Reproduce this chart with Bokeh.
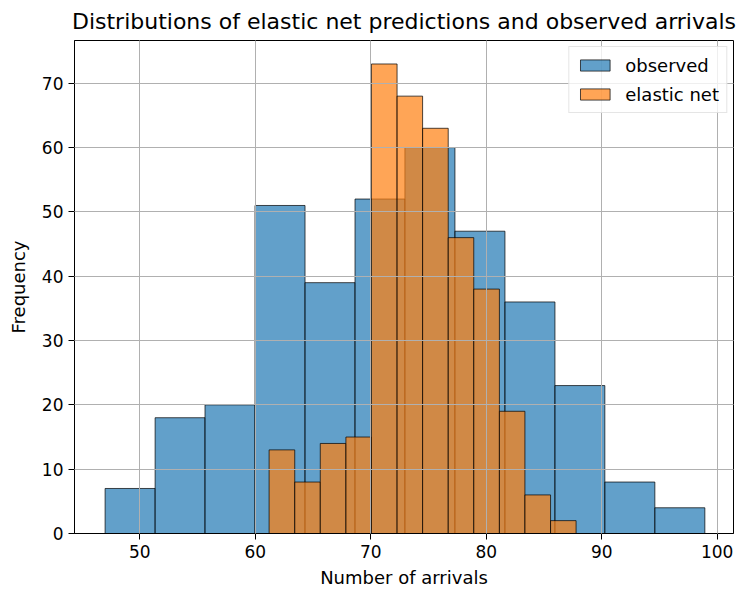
from bokeh.plotting import figure
from bokeh.models import Range1d, FixedTicker, Legend, LegendItem
from bokeh.embed import file_html
from bokeh.resources import INLINE

# Observed arrivals histogram (12 bins)
obs_edges = [47.0, 51.33, 55.65, 59.98, 64.31, 68.64, 72.96, 77.29, 81.62, 85.95, 90.27, 94.60, 98.93]
obs_counts = [7, 18, 20, 51, 39, 52, 60, 47, 36, 23, 8, 4]

# Elastic net predictions histogram (12 bins)
en_edges = [61.2, 63.42, 65.63, 67.85, 70.06, 72.28, 74.49, 76.71, 78.92, 81.14, 83.35, 85.57, 87.78]
en_counts = [13, 8, 14, 15, 73, 68, 63, 46, 38, 19, 6, 2]

x_ticks = [50, 60, 70, 80, 90, 100]
y_ticks = [0, 10, 20, 30, 40, 50, 60, 70]

FONT = "DejaVu Sans"

p = figure(width=740, height=592, frame_width=659, frame_height=493,
           output_backend="svg", toolbar_location=None,
           x_range=Range1d(44.35, 101.41), y_range=Range1d(0, 76.65),
           title="Distributions of elastic net predictions and observed arrivals",
           min_border_left=74, min_border_right=7, min_border_top=40, min_border_bottom=59)

p.title.align = "center"
p.title.text_font = FONT
p.title.text_font_size = "22px"
p.title.text_font_style = "normal"
p.title.text_color = "black"
p.title.standoff = 13

r_obs = p.quad(left=obs_edges[:-1], right=obs_edges[1:], bottom=0, top=obs_counts,
               fill_color="#1f77b4", fill_alpha=0.7, line_color="black", line_alpha=0.7, line_width=1)
r_en = p.quad(left=en_edges[:-1], right=en_edges[1:], bottom=0, top=en_counts,
              fill_color="#ff7f0e", fill_alpha=0.7, line_color="black", line_alpha=0.7, line_width=1)

for ax, ticks in ((p.xaxis, x_ticks), (p.yaxis, y_ticks)):
    ax.ticker = FixedTicker(ticks=ticks)
    ax.major_label_text_font = FONT
    ax.major_label_text_font_size = "17px"
    ax.major_label_text_color = "black"
    ax.axis_label_text_font = FONT
    ax.axis_label_text_font_size = "18px"
    ax.axis_label_text_font_style = "normal"
    ax.axis_label_text_color = "black"
    ax.major_tick_in = 0
    ax.major_tick_out = 6
    ax.minor_tick_line_color = None
    ax.axis_line_color = "black"
    ax.major_tick_line_color = "black"
    ax.major_label_standoff = 5

p.xaxis.axis_label = "Number of arrivals"
p.yaxis.axis_label = "Frequency"
p.xaxis.axis_label_standoff = 6
p.yaxis.axis_label_standoff = 10

p.outline_line_color = "black"
p.outline_line_width = 1
p.outline_line_alpha = 1

for g in (p.xgrid, p.ygrid):
    g.grid_line_color = "#b0b0b0"
    g.grid_line_width = 1
    g.level = "overlay"
p.xgrid.ticker = FixedTicker(ticks=x_ticks)
p.ygrid.ticker = FixedTicker(ticks=y_ticks)

legend = Legend(items=[LegendItem(label="observed", renderers=[r_obs]),
                       LegendItem(label="elastic net", renderers=[r_en])],
                location="top_right")
legend.label_text_font = FONT
legend.label_text_font_size = "18px"
legend.label_text_color = "black"
legend.glyph_width = 37
legend.glyph_height = 14
legend.label_height = 22
legend.label_standoff = 12
legend.border_line_color = "#cccccc"
legend.background_fill_alpha = 0.8
legend.margin = 6
legend.padding = 7
legend.spacing = 7
p.add_layout(legend)

open("out.html", "w").write(file_html(p, INLINE))
